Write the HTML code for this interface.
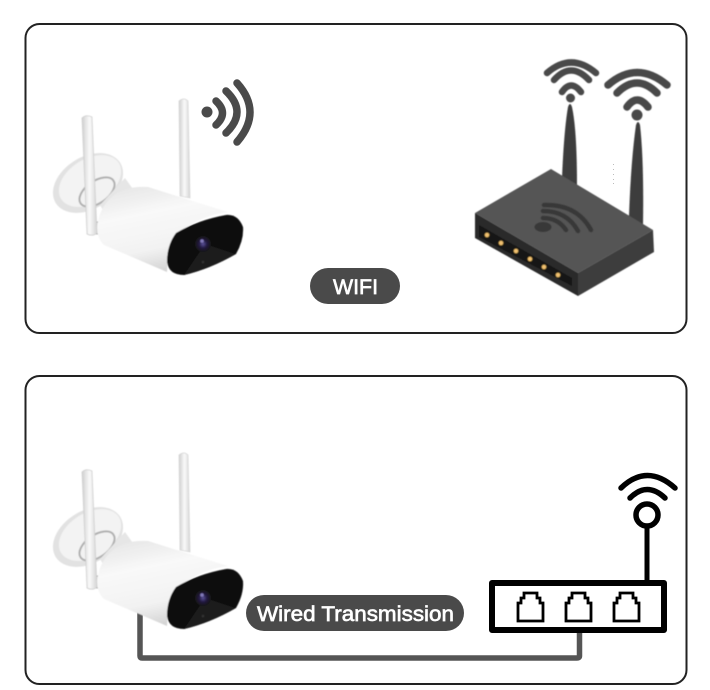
<!DOCTYPE html>
<html><head><meta charset="utf-8"><style>
html,body{margin:0;padding:0;background:#fff}
svg{display:block}
text{font-family:"Liberation Sans",sans-serif;fill:#fff;stroke:#fff;stroke-width:0.65}
</style></head><body>
<svg width="710" height="690" viewBox="0 0 710 690" xmlns="http://www.w3.org/2000/svg">
<defs>
<linearGradient id="body" x1="0.3" y1="0" x2="0.62" y2="1">
<stop offset="0" stop-color="#e8e8e8"/><stop offset="0.3" stop-color="#f9f9f9"/><stop offset="0.7" stop-color="#f2f2f2"/><stop offset="1" stop-color="#cfcfcf"/>
</linearGradient>
<linearGradient id="ant" x1="0" y1="0" x2="1" y2="0">
<stop offset="0" stop-color="#cfcfcf"/><stop offset="0.5" stop-color="#fafafa"/><stop offset="1" stop-color="#d4d4d4"/>
</linearGradient>
<radialGradient id="lens"><stop offset="0" stop-color="#5a5098"/><stop offset="0.5" stop-color="#221a40"/><stop offset="1" stop-color="#161616"/></radialGradient>
<filter id="s" x="-5%" y="-5%" width="110%" height="110%"><feGaussianBlur stdDeviation="0.6"/></filter>
<g id="cam" filter="url(#s)">
<path d="M179 101Q184 97 188 101L190 198 180 196Z" fill="url(#ant)" stroke="#d4d4d4" stroke-width="0.7"/>
<ellipse cx="88" cy="183" rx="38" ry="26" transform="rotate(-32 88 183)" fill="#e2e2e2"/>
<ellipse cx="90" cy="181" rx="34" ry="22" transform="rotate(-32 90 181)" fill="#f3f3f3"/>
<ellipse cx="97" cy="192" rx="20" ry="11" transform="rotate(-35 97 192)" fill="#f2f2f2" stroke="#b0b0b0" stroke-width="2"/>
<path d="M100 205L125 178 135 192 110 222Z" fill="#e6e6e6"/>
<circle cx="98" cy="228" r="6" fill="#ddd" stroke="#999"/>
<path d="M117 193Q130 186 148 187L228 212Q200 216 180 232Q168 248 167 272L104 245Q97 238 97 228Q99 205 117 193Z" fill="url(#body)"/>
<path d="M176 233Q198 220 226 215Q238 214 243 227Q244 240 236 254Q210 269 184 275Q169 275 167 262Q167 245 176 233Z" fill="#0b0b0b"/>
<path d="M205 244L235 254Q210 269 184 275Z" fill="#1a1a1a"/>
<circle cx="203" cy="244" r="8" fill="url(#lens)"/>
<circle cx="202" cy="241" r="1.800" fill="#8078b8"/>
<circle cx="203" cy="262" r="1.300" fill="#333"/>
<path d="M82 118Q86 114 92 117L97 233Q93 237 87 234Z" fill="url(#ant)" stroke="#cccccc" stroke-width="0.7"/>
</g>
</defs>

<rect x="25.500" y="24" width="661" height="309" rx="14" fill="#fff" stroke="#222" stroke-width="2"/>
<rect x="25.500" y="376" width="661" height="308" rx="14" fill="#fff" stroke="#222" stroke-width="2"/>

<!-- cable -->
<path d="M140 612V656Q140 658 142 658H577Q579.500 658 579.500 656V630" fill="none" stroke="#555" stroke-width="5.500"/>

<!-- cameras -->
<use href="#cam"/>
<use href="#cam" y="354"/>

<!-- camera wifi -->
<g fill="none" stroke="#4a4a4a" stroke-width="7.500" stroke-linecap="round">
<path d="M216 101Q229 113 216 125"/>
<path d="M226 91Q248 112 226 133"/>
<path d="M237 83Q263 112 237 142"/>
</g>
<circle cx="207" cy="112" r="5.500" fill="#4a4a4a"/>

<!-- router -->
<g filter="url(#s)">
<path d="M562 178Q564 130 568 107Q570 101 572 107Q577 130 577 186Z" fill="#3d3d3d"/>
<path d="M629 216Q631 160 636 125Q638 119 640 125Q644 160 643 226Z" fill="#3d3d3d"/>
<path d="M475 213L551 169 653 230 578 273Z" fill="#555"/>
<path d="M475 213V238L578 296V273Z" fill="#2b2b2b"/>
<path d="M578 273L653 230 654 252 578 296Z" fill="#3e3e3e"/>
<path d="M479 225L572 278V286L479 237Z" fill="#151515"/>
<g fill="#f0c070" stroke="#5a4a20" stroke-width="0.8">
<circle cx="487" cy="235" r="2.500"/><circle cx="501" cy="243" r="2.500"/><circle cx="516" cy="251" r="2.500"/><circle cx="530" cy="259" r="2.500"/><circle cx="544" cy="267" r="2.500"/><circle cx="558" cy="275" r="2.500"/>
</g>
<ellipse cx="543" cy="227" rx="8.500" ry="5" fill="#383838"/>
<g fill="none" stroke="#383838" stroke-width="4.500" stroke-linecap="round">
<path d="M543 218Q558 218 566 230"/>
<path d="M543 211Q567 211 578 231"/>
<path d="M544 205Q577 204 591 230"/>
</g>
<g fill="none" stroke="#4a4a4a" stroke-width="6.500" stroke-linecap="round">
<path d="M562 92Q571 79 581 92"/>
<path d="M554 80Q571 61 589 80"/>
<path d="M547 73Q571 52 596 73"/>
</g>
<circle cx="570.500" cy="98" r="4.500" fill="#4a4a4a"/>
<g fill="none" stroke="#4a4a4a" stroke-width="7.500" stroke-linecap="round">
<path d="M627 107Q637 93 648 107"/>
<path d="M617 93Q637 73 657 93"/>
<path d="M608 85Q637 60 667 85"/>
</g>
<circle cx="637" cy="115" r="5.500" fill="#4a4a4a"/>
</g>
<g fill="#bbb"><rect x="613" y="164" width="1" height="1"/><rect x="613" y="169" width="1" height="1"/><rect x="613" y="174" width="1" height="1"/><rect x="613" y="179" width="1" height="1"/><rect x="613" y="183" width="1" height="1"/></g>

<!-- labels -->
<rect x="310" y="268" width="90" height="36" rx="18" fill="#4a4a4a"/>
<text x="333" y="294" font-size="21" textLength="45" lengthAdjust="spacingAndGlyphs">WIFI</text>
<rect x="246" y="595" width="218" height="36" rx="18" fill="#4a4a4a"/>
<text x="257" y="621" font-size="21" textLength="197" lengthAdjust="spacingAndGlyphs">Wired Transmission</text>

<!-- wired router icon -->
<g fill="none" stroke="#000">
<rect x="492" y="583" width="172" height="47" stroke-width="6" stroke-linejoin="round"/>
<path d="M647 528V581" stroke-width="5"/>
<circle cx="647" cy="515" r="11" stroke-width="5.500"/>
<path d="M630 498Q647 481 665 498" stroke-width="5.500" stroke-linecap="round"/>
<path d="M621 488Q647 463 675 488" stroke-width="5.500" stroke-linecap="round"/>
<g stroke-width="2.800" stroke-linejoin="miter">
<path d="M518 621H543V603H540V598H537V593H524V598H521V603H518Z"/>
<path d="M566 621H591V603H588V598H585V593H572V598H569V603H566Z"/>
<path d="M614 621H639V603H636V598H633V593H620V598H617V603H614Z"/>
</g>
</g>
</svg>
</body></html>
